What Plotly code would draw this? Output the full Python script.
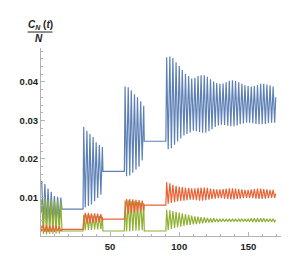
import plotly.graph_objects as go

# ---------------- data ----------------
# segment 1: t in [0, 30]
t_seg1 = [0.0, 0.5, 1.7, 2.8, 4.0, 5.1, 6.3, 7.4, 8.6, 9.7, 10.9, 12.0, 13.2, 14.3, 15.2, 30.4]
blue_seg1 = [0.0135, 0.0143, 0.0030, 0.0135, 0.0032, 0.0123, 0.0035, 0.0115, 0.0038, 0.0104,
             0.0040, 0.0102, 0.0042, 0.0100, 0.0070, 0.0070]
orange_seg1 = [0.0028, 0.0012, 0.0029, 0.0010, 0.0028, 0.0010, 0.0027, 0.0011, 0.0027, 0.0011,
               0.0026, 0.0012, 0.0025, 0.0012, 0.0017, 0.0017]
green_seg1 = [0.0060, 0.0095, 0.0005, 0.0098, 0.0004, 0.0093, 0.0005, 0.0095, 0.0005, 0.0090,
              0.0006, 0.0092, 0.0006, 0.0088, 0.0013, 0.0013]

# segment 2: t in [30, 60]
t_seg2 = [30.9, 32.0, 33.2, 34.3, 35.4, 36.5, 37.7, 38.8, 39.9, 41.0, 42.2, 43.3, 44.4, 44.8, 60.3]
blue_seg2 = [0.0283, 0.0074, 0.0273, 0.0078, 0.0265, 0.0082, 0.0257, 0.0090, 0.0243, 0.0099,
             0.0236, 0.0107, 0.0231, 0.0168, 0.0168]
orange_seg2 = [0.0035, 0.0060, 0.0032, 0.0060, 0.0033, 0.0059, 0.0034, 0.0059, 0.0035, 0.0058,
               0.0036, 0.0057, 0.0038, 0.0044, 0.0044]
green_seg2 = [0.0055, 0.0015, 0.0055, 0.0016, 0.0054, 0.0016, 0.0053, 0.0017, 0.0052, 0.0017,
              0.0052, 0.0018, 0.0050, 0.0013, 0.0013]

# segment 3: t in [60, 90]
t_seg3 = [60.8, 61.9, 63.1, 64.2, 65.3, 66.4, 67.6, 68.7, 69.8, 70.9, 72.1, 73.2, 74.3, 74.7, 90.3]
blue_seg3 = [0.0388, 0.0155, 0.0386, 0.0157, 0.0378, 0.0164, 0.0368, 0.0172, 0.0360, 0.0180,
             0.0350, 0.0196, 0.0338, 0.0246, 0.0246]
orange_seg3 = [0.0060, 0.0096, 0.0058, 0.0096, 0.0060, 0.0095, 0.0062, 0.0094, 0.0063, 0.0093,
               0.0064, 0.0092, 0.0066, 0.0080, 0.0080]
green_seg3 = [0.0092, 0.0012, 0.0093, 0.0012, 0.0090, 0.0013, 0.0090, 0.0014, 0.0088, 0.0014,
              0.0087, 0.0015, 0.0085, 0.0013, 0.0013]

# segment 4: t in [90, 170] -- times of maxima and minima
t_seg4_max = [90.9, 93.2, 95.4, 97.7, 100.0, 102.2, 104.5, 106.8, 109.0, 111.3,
              113.6, 115.8, 118.1, 120.3, 122.6, 124.9, 127.1, 129.4, 131.7, 133.9,
              136.2, 138.5, 140.7, 143.0, 145.3, 147.5, 149.8, 152.1, 154.3, 156.6,
              158.9, 161.1, 163.4, 165.7, 167.9]
t_seg4_min = [92.0, 94.3, 96.6, 98.8, 101.1, 103.4, 105.6, 107.9, 110.2, 112.4,
              114.7, 116.9, 119.2, 121.5, 123.7, 126.0, 128.3, 130.5, 132.8, 135.1,
              137.3, 139.6, 141.9, 144.1, 146.4, 148.7, 150.9, 153.2, 155.5, 157.7,
              160.0, 162.3, 164.5, 166.8, 169.0]
t_end = 169.8

blue_seg4_max = [0.0464, 0.0466, 0.0462, 0.0451, 0.0441, 0.0431, 0.0421, 0.0415, 0.0409, 0.0411,
                 0.0415, 0.0417, 0.0417, 0.0413, 0.0407, 0.0401, 0.0397, 0.0395, 0.0396, 0.0399,
                 0.0403, 0.0404, 0.0402, 0.0399, 0.0395, 0.0391, 0.0389, 0.0388, 0.0389, 0.0392,
                 0.0395, 0.0395, 0.0393, 0.0391, 0.0388]
blue_seg4_min = [0.0225, 0.0228, 0.0237, 0.0245, 0.0253, 0.0261, 0.0265, 0.0269, 0.0273, 0.0272,
                 0.0270, 0.0268, 0.0268, 0.0272, 0.0277, 0.0283, 0.0287, 0.0289, 0.0288, 0.0286,
                 0.0285, 0.0285, 0.0287, 0.0290, 0.0292, 0.0294, 0.0294, 0.0293, 0.0291, 0.0290,
                 0.0290, 0.0291, 0.0293, 0.0294, 0.0294]
blue_end = 0.0360

orange_seg4_max = [0.0140, 0.0137, 0.0133, 0.0130, 0.0128, 0.0127, 0.0126, 0.0125, 0.0124, 0.0124,
                   0.0125, 0.0126, 0.0126, 0.0125, 0.0123, 0.0122, 0.0121, 0.0121, 0.0122, 0.0123,
                   0.0124, 0.0124, 0.0123, 0.0122, 0.0121, 0.0120, 0.0120, 0.0121, 0.0122, 0.0123,
                   0.0123, 0.0122, 0.0121, 0.0120, 0.0120]
orange_seg4_min = [0.0084, 0.0086, 0.0088, 0.0090, 0.0091, 0.0092, 0.0093, 0.0094, 0.0094, 0.0093,
                   0.0092, 0.0092, 0.0093, 0.0094, 0.0096, 0.0097, 0.0098, 0.0098, 0.0097, 0.0096,
                   0.0095, 0.0095, 0.0096, 0.0097, 0.0098, 0.0099, 0.0099, 0.0098, 0.0097, 0.0096,
                   0.0096, 0.0097, 0.0098, 0.0099, 0.0099]
orange_end = 0.0110

green_seg4_max = [0.0068, 0.0067, 0.0065, 0.0063, 0.0061, 0.0059, 0.0057, 0.0055, 0.0053, 0.0051,
                  0.0050, 0.0049, 0.0048, 0.0047, 0.0046, 0.0046, 0.0045, 0.0045, 0.0045, 0.0044,
                  0.0044, 0.0044, 0.0044, 0.0044, 0.0045, 0.0045, 0.0045, 0.0046, 0.0046, 0.0046,
                  0.0046, 0.0046, 0.0045, 0.0045, 0.0045]
green_seg4_min = [0.0015, 0.0018, 0.0020, 0.0022, 0.0024, 0.0026, 0.0028, 0.0029, 0.0030, 0.0031,
                  0.0032, 0.0033, 0.0034, 0.0035, 0.0035, 0.0036, 0.0036, 0.0037, 0.0037, 0.0038,
                  0.0038, 0.0038, 0.0038, 0.0038, 0.0037, 0.0037, 0.0037, 0.0036, 0.0036, 0.0036,
                  0.0036, 0.0036, 0.0037, 0.0037, 0.0037]
green_end = 0.0041

x_ticks = [50, 100, 150]
x_tick_labels = ["50", "100", "150"]
y_ticks = [0.01, 0.02, 0.03, 0.04]
y_tick_labels = ["0.01", "0.02", "0.03", "0.04"]


# ---------------- assemble series ----------------
def interleave(a, b):
    out = []
    for p, q in zip(a, b):
        out += [p, q]
    return out


t_all = t_seg1 + t_seg2 + t_seg3 + interleave(t_seg4_max, t_seg4_min) + [t_end]
blue = blue_seg1 + blue_seg2 + blue_seg3 + interleave(blue_seg4_max, blue_seg4_min) + [blue_end]
orange = orange_seg1 + orange_seg2 + orange_seg3 + interleave(orange_seg4_max, orange_seg4_min) + [orange_end]
green = green_seg1 + green_seg2 + green_seg3 + interleave(green_seg4_max, green_seg4_min) + [green_end]

W, H = 291, 256
ML, MR, MT, MB = 22, 18, 40, 16
PW, PH = W - ML - MR, H - MT - MB


def px(x):
    return (x - ML) / PW


def py(y):
    return (H - MB - y) / PH


fig = go.Figure()
series = [("blue", blue, "#5E81B5"), ("green", green, "#8FB032"), ("orange", orange, "#EB6235")]
for name, vals, col in series:
    fig.add_trace(go.Scatter(x=t_all, y=vals, mode="lines", name=name,
                             line=dict(color=col, width=1.2), showlegend=False,
                             hoverinfo="skip"))

axis_col = "#b4b4b4"
font_fam = "Liberation Sans, Arial, sans-serif"
txt_col = "#222222"

fig.update_layout(
    width=W, height=H,
    margin=dict(l=ML, r=MR, t=MT, b=MB, pad=0),
    paper_bgcolor="white", plot_bgcolor="white",
    font=dict(family=font_fam, size=9.5, color=txt_col),
    xaxis=dict(range=[0, 173.6], showgrid=False, zeroline=False,
               showline=True, linecolor=axis_col, linewidth=1,
               tickmode="array", tickvals=x_ticks, ticktext=x_tick_labels,
               ticks="inside", ticklen=4, tickcolor=axis_col, tickwidth=1,
               ticklabelstandoff=2,
               minor=dict(dtick=10, tick0=0, ticks="inside", ticklen=2, tickcolor=axis_col),
               tickfont=dict(size=9.5, color=txt_col, weight="bold")),
    yaxis=dict(range=[0, 0.0488], showgrid=False, zeroline=False,
               showline=True, linecolor=axis_col, linewidth=1,
               tickmode="array", tickvals=y_ticks, ticktext=y_tick_labels,
               ticks="inside", ticklen=4, tickcolor=axis_col, tickwidth=1,
               minor=dict(dtick=0.002, tick0=0, ticks="inside", ticklen=2, tickcolor=axis_col),
               tickfont=dict(size=9.5, color=txt_col, weight="bold")),
)

fig.add_annotation(x=px(21), y=py(16), xref="paper", yref="paper",
                   text="<b><i>C<sub>N</sub></i> (<i>t</i>)</b>", showarrow=False,
                   xanchor="center", yanchor="middle",
                   font=dict(family=font_fam, size=10, color=txt_col))
fig.add_shape(type="line", xref="paper", yref="paper",
              x0=px(8), x1=px(34), y0=py(23), y1=py(23),
              line=dict(color=txt_col, width=1))
fig.add_annotation(x=px(20), y=py(30), xref="paper", yref="paper",
                   text="<b><i>N</i></b>", showarrow=False,
                   xanchor="center", yanchor="middle",
                   font=dict(family=font_fam, size=10, color=txt_col))
fig.add_annotation(x=px(283), y=py(240), xref="paper", yref="paper",
                   text="<b>t</b>", showarrow=False,
                   xanchor="center", yanchor="middle", borderpad=0,
                   font=dict(family=font_fam, size=10, color=txt_col))

fig.write_html("out.html")
